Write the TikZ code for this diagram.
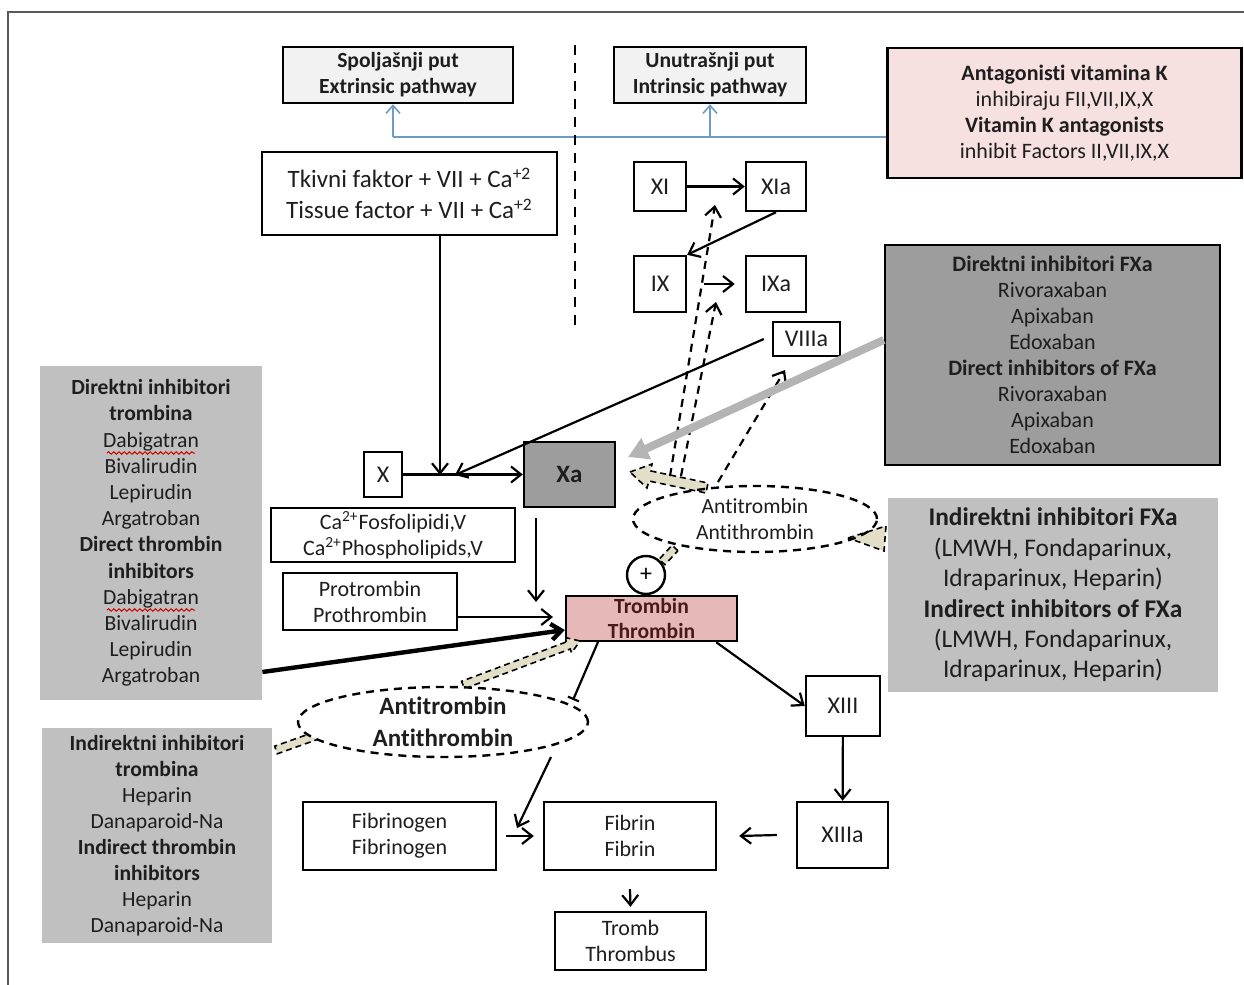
\documentclass[tikz,border=0pt]{standalone}
\usepackage{fontspec}
\setmainfont{Carlito}[Ligatures=NoCommon]
\usetikzlibrary{arrows.meta,shapes.geometric,decorations.pathmorphing}
\definecolor{txt}{HTML}{1E1E1E}
\definecolor{lgray}{HTML}{C0C0C0}
\definecolor{dgray}{HTML}{9D9D9D}
\definecolor{pinkbox}{HTML}{F6E0E0}
\definecolor{thrpink}{HTML}{E6B8B7}
\definecolor{pathfill}{HTML}{F2F2F2}
\definecolor{blueline}{HTML}{6F9CC6}
\definecolor{beige}{HTML}{E2DEC8}
\definecolor{grayarrow}{HTML}{B4B4B4}
\definecolor{thrtxt}{HTML}{4A1A1A}
\begin{document}
\begin{tikzpicture}[x=0.5pt,y=-0.5pt,
  box/.style={draw=black, line width=1.2pt, fill=white, align=center, inner sep=0pt, text=txt},
  panel/.style={fill=lgray, align=center, inner sep=0pt, text=txt},
  fs/.style={font=\fontsize{11}{13}\selectfont},
  fsb/.style={font=\fontsize{10.8}{13}\selectfont\bfseries},
  fsmall/.style={font=\fontsize{12}{14}\selectfont},
  arr/.style={line width=1.1pt, -{Straight Barb[length=5pt,width=8pt]}},
  darr/.style={line width=1.1pt, dash pattern=on 4pt off 3pt, -{Straight Barb[length=5pt,width=8pt]}},
  beigeshape/.style={fill=beige, draw=black, line width=0.8pt, dash pattern=on 3pt off 2pt},
  wavy/.style={red!80!black, line width=0.5pt, decorate, decoration={snake, amplitude=0.6pt, segment length=2.6pt}},
  ell/.style={ellipse, draw=black, line width=1.2pt, dash pattern=on 4pt off 3pt, fill=white, inner sep=0pt}
]
\useasboundingbox (0,0) rectangle (1244,985);
\fill[white] (0,0) rectangle (1244,985);
% frame
\coordinate (fr1) at (8,985);
\coordinate (fr2) at (8,12);
\coordinate (fr3) at (1244,12);
\draw[gray!70!black, line width=0.8pt] (fr1) -- (fr2) -- (fr3);

% pathway boxes
\node[box, fill=pathfill, fsb, minimum width=115pt, minimum height=28pt] (ext) at (398,75) {Spoljašnji put\\Extrinsic pathway};
\node[box, fill=pathfill, fsb, minimum width=96pt, minimum height=28pt] (int) at (710,75) {Unutrašnji put\\Intrinsic pathway};
\node[box, fill=pinkbox, fs, minimum width=177pt, minimum height=65pt] (vitk) at (1064.5,113)
  {\textbf{Antagonisti vitamina K}\\inhibiraju FII,VII,IX,X\\\textbf{Vitamin K antagonists}\\inhibit Factors II,VII,IX,X};

% blue connector
\coordinate (b1) at (393,137);
\coordinate (b2) at (710,137);
\draw[blueline, line width=0.8pt] (vitk.west |- b1) -- (b1);
\draw[blueline, line width=0.8pt, -{Straight Barb[length=4pt,width=7pt]}] (b1) -- (b1 |- ext.south);
\draw[blueline, line width=0.8pt, -{Straight Barb[length=4pt,width=7pt]}] (b2) -- (int.south);

% dashed divider
\coordinate (d1) at (575,45);
\coordinate (d2) at (575,325);
\draw[line width=1.2pt, dash pattern=on 5pt off 4pt] (d1) -- (d2);

% extrinsic
\node[box, font=\fontsize{12.5}{15.5}\selectfont, minimum width=147.5pt, minimum height=41.5pt] (tf) at (409.5,193.5)
  {Tkivni faktor + VII + Ca\textsuperscript{+2}\\Tissue factor + VII + Ca\textsuperscript{+2}};

% intrinsic
\node[box, fsmall, minimum width=26pt, minimum height=24.5pt] (XI) at (660,186.5) {XI};
\node[box, fsmall, minimum width=30pt, minimum height=24.5pt] (XIa) at (776,186.5) {XIa};
\node[box, fsmall, minimum width=26pt, minimum height=28pt] (IX) at (660,284) {IX};
\node[box, fsmall, minimum width=30pt, minimum height=28pt] (IXa) at (776,284) {IXa};
\node[box, fsmall, minimum width=33.5pt, minimum height=17pt] (VIIIa) at (806.5,339) {VIIIa};
\draw[arr] (XI) -- (XIa);
\draw[arr] (XIa.south) -- (IX.north east);
\draw[arr] ([xshift=8.5pt]IX.east) -- ([xshift=-5pt]IXa.west);

% Direct FXa inhibitors
\node[box, fill=dgray, fs, minimum width=167.5pt, minimum height=110pt] (dfxa) at (1052.5,355)
  {\textbf{Direktni inhibitori FXa}\\Rivoraxaban\\Apixaban\\Edoxaban\\\textbf{Direct inhibitors of FXa}\\Rivoraxaban\\Apixaban\\Edoxaban};

% X, Xa
\node[box, fsmall, minimum width=19pt, minimum height=22.5pt] (X) at (383,474.5) {X};
\node[box, fill=dgray, font=\fontsize{12.5}{14}\selectfont\bfseries, minimum width=45.5pt, minimum height=32.5pt] (Xa) at (569.5,474.5) {Xa};
\coordinate (j1) at (440,475);
\coordinate (j2) at (455,475);
\draw[arr] (j1 |- tf.south) -- (j1);
\draw[arr] (X) -- (Xa);
\draw[arr] ([xshift=-4pt]VIIIa.west) -- (j2);

\node[box, fs, minimum width=122pt, minimum height=27pt] (ca) at (393,535)
  {Ca\textsuperscript{2+}Fosfolipidi,V\\Ca\textsuperscript{2+}Phospholipids,V};
\node[box, fs, minimum width=87pt, minimum height=28.5pt] (pro) at (370,601.5) {Protrombin\\Prothrombin};

% thrombin
\node[box, fill=thrpink, text=thrtxt, font=\fontsize{10.8}{12.5}\selectfont\bfseries, minimum width=85.5pt, minimum height=22.5pt] (thr) at (651.5,618.5) {Trombin\\Thrombin};

\coordinate (xa1) at (536,518);
\coordinate (xa2) at (536,602);
\draw[arr] (xa1) -- (xa2);
\coordinate (pt) at (553,617);
\draw[arr] (pro.east |- pt) -- (pt);

% upper antithrombin + beige arrows
\draw[beigeshape] (630,472) -- (652,464) -- (651,471) -- (708,483) -- (706,493) -- (649,481) -- (647,488) -- cycle;
\draw[beigeshape] (848,538) -- (886,526) -- (884,551) -- cycle;
\draw[beigeshape] (677.9,550.7) -- (672.1,545.3) -- (659.1,559.3) -- (664.9,564.7) -- cycle;
\node[ell, fill=none, minimum width=122pt, minimum height=33pt] (at1) at (755,519) {};
\node[font=\fontsize{10.8}{13}\selectfont, text=txt, align=center, inner sep=0pt] (at1t) at (755,519) {Antitrombin\\Antithrombin};
\node[circle, draw=black, line width=1.2pt, fill=white, minimum size=19pt, inner sep=0pt, font=\fontsize{12}{13}\selectfont] (plus) at (646,575) {+};

% dashed feedback arrows
\coordinate (f1a) at (670,476);
\coordinate (f1b) at (715,205);
\coordinate (f2a) at (681,476);
\coordinate (f2b) at (716,302);
\coordinate (f3a) at (718,482);
\coordinate (f3b) at (785,370);
\draw[darr] (f1a) -- (f1b);
\draw[darr] (f2a) -- (f2b);
\draw[darr] (f3a) -- (f3b);

% gray arrow direct FXa -> Xa
\coordinate (g2) at (628,457);
\draw[grayarrow, line width=4pt, -{Triangle[length=10pt,width=11pt]}] (dfxa.west |- 0,340) -- (g2);

% indirect FXa
\node[panel, font=\fontsize{12.7}{15.2}\selectfont, minimum width=165pt, minimum height=97pt] (ifxa) at (1053,595)
  {\textbf{Indirektni inhibitori FXa}\\(LMWH, Fondaparinux,\\Idraparinux, Heparin)\\\textbf{Indirect inhibitors of FXa}\\(LMWH, Fondaparinux,\\Idraparinux, Heparin)};

% left panels
\node[panel, font=\fontsize{10.8}{13.1}\selectfont, minimum width=111pt, minimum height=167pt] (dth) at (151,533)
  {\textbf{Direktni inhibitori}\\\textbf{trombina}\\Dabigatran\\Bivalirudin\\Lepirudin\\Argatroban\\\textbf{Direct thrombin}\\\textbf{inhibitors}\\Dabigatran\\Bivalirudin\\Lepirudin\\Argatroban};
\draw[wavy] (107,453) -- (195,453);
\draw[wavy] (107,610) -- (195,610);
\node[panel, font=\fontsize{10.8}{13}\selectfont, minimum width=115pt, minimum height=107.5pt] (ith) at (157,835.5)
  {\textbf{Indirektni inhibitori}\\\textbf{trombina}\\Heparin\\Danaparoid-Na\\\textbf{Indirect thrombin}\\\textbf{inhibitors}\\Heparin\\Danaparoid-Na};

% thick arrow direct thrombin inhibitors -> thrombin
\draw[line width=2.2pt, -{Straight Barb[length=5pt,width=8pt]}] (dth.east |- 0,672) -- (thr.west |- 0,630);

% lower antithrombin
\draw[beigeshape] (580,641) -- (566,637.7) -- (567.4,641.5) -- (461.6,681.3) -- (464.4,688.7) -- (570.2,649) -- (571.6,652.7) -- cycle;
\draw[beigeshape] (319.3,738.8) -- (316.7,731.2) -- (274.7,746.2) -- (277.3,753.8) -- cycle;
\node[ell, minimum width=145pt, minimum height=35pt] (at2) at (443,722) {};
\node[font=\fontsize{12.5}{16}\selectfont\bfseries, text=txt, align=center, inner sep=0pt] (at2t) at (443,722) {Antitrombin\\Antithrombin};

\coordinate (t1) at (598,642);
\coordinate (t2) at (573,700);
\draw[line width=1.1pt, -{Bar[width=6pt]}] (t1) -- (t2);
\coordinate (t3) at (551,757);
\coordinate (t4) at (517,828);
\draw[arr] (t3) -- (t4);

% bottom boxes
\node[box, fs, minimum width=96.5pt, minimum height=34pt] (fbg) at (399.5,836) {Fibrinogen\\Fibrinogen};
\node[box, fs, minimum width=86pt, minimum height=34pt] (fib) at (630,836) {Fibrin\\Fibrin};
\node[box, fs, minimum width=75.5pt, minimum height=29pt] (tromb) at (630.5,941) {Tromb\\Thrombus};
\node[box, fsmall, minimum width=37pt, minimum height=30pt] (XIII) at (843,706) {XIII};
\node[box, fsmall, minimum width=45.5pt, minimum height=33pt] (XIIIa) at (842.5,835) {XIIIa};

\draw[arr] ([xshift=-11pt]thr.south east) -- (XIII.west);
\draw[arr] (XIII) -- (XIIIa);
\draw[arr] ([xshift=-9.5pt]XIIIa.west) -- ([xshift=11pt]fib.east);
\draw[arr] ([xshift=4.5pt]fbg.east) -- ([xshift=-4.5pt]fib.west);
\draw[arr] ([yshift=-9pt]fib.south) -- ([yshift=2pt]tromb.north);
\end{tikzpicture}
\end{document}
